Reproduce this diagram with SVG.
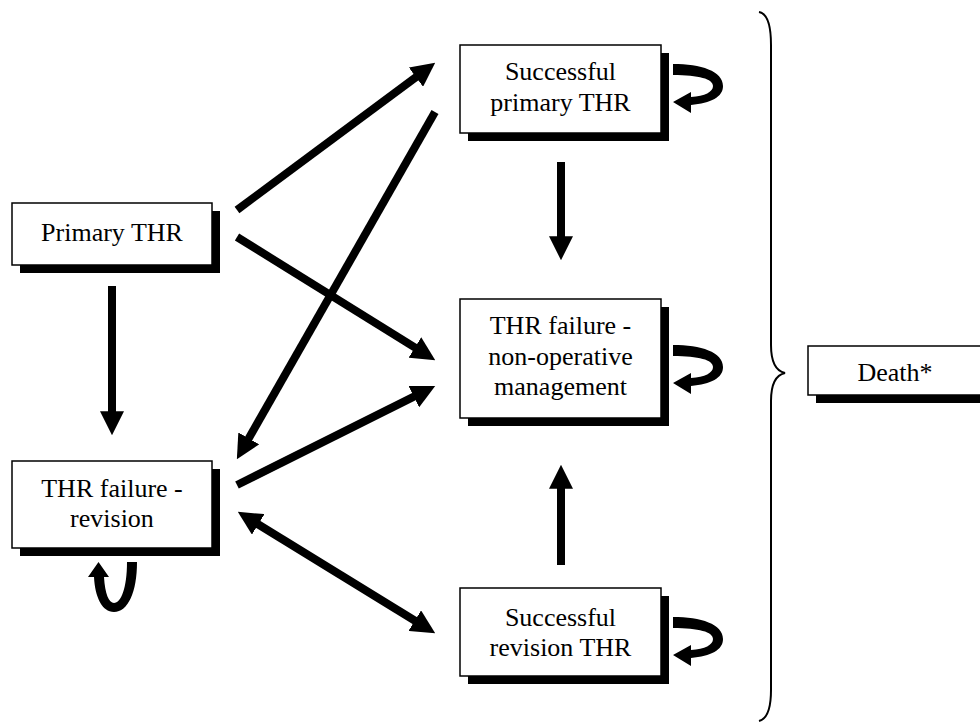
<svg xmlns="http://www.w3.org/2000/svg" width="980" height="725" viewBox="0 0 980 725">
<style>
  .shadow { fill: #000; }
  .box { fill: #fff; stroke: #000; stroke-width: 1.5; }
  .lbl { font-family: "Liberation Serif", "Times New Roman", serif; font-size: 26px; fill: #000; text-anchor: middle; }
  .arr { stroke: #000; stroke-width: 8; fill: none; }
  .loop { fill: #000; }
  .brace { fill: none; stroke: #000; stroke-width: 2; }
</style>
<defs>
  <marker id="head" viewBox="0 0 10 10" refX="0.3" refY="5" markerWidth="3" markerHeight="3" orient="auto-start-reverse" markerUnits="strokeWidth">
    <path d="M0,0 L10,5 L0,10 z" fill="#000"/>
  </marker>
</defs>
<rect width="980" height="725" fill="#fff"/>

<g id="connectors">
  <line class="arr" x1="112" y1="286" x2="112" y2="412" marker-end="url(#head)"/>
  <line class="arr" x1="561" y1="162" x2="561" y2="237" marker-end="url(#head)"/>
  <line class="arr" x1="561" y1="565" x2="561" y2="488" marker-end="url(#head)"/>
  <line class="arr" x1="237" y1="210" x2="416.5" y2="76.7" marker-end="url(#head)"/>
  <line class="arr" x1="237" y1="237" x2="415.5" y2="347.9" marker-end="url(#head)"/>
  <line class="arr" x1="435" y1="112" x2="248.4" y2="439" marker-end="url(#head)"/>
  <line class="arr" x1="237" y1="485" x2="414.4" y2="396.3" marker-end="url(#head)"/>
  <line class="arr" x1="257.6" y1="524" x2="415.4" y2="621" marker-start="url(#head)" marker-end="url(#head)"/>
  <path class="loop" transform="translate(673,64)" d="M0,0 C28,0 50,7 50,22 C50,33 38,39 18,41 L18,49 L0,38 L18,28 L18,33 C32,32 40,28 40,22 C40,15 26,11 0,11 Z"/>
  <path class="loop" transform="translate(673,345)" d="M0,0 C28,0 50,7 50,22 C50,33 38,39 18,41 L18,49 L0,38 L18,28 L18,33 C32,32 40,28 40,22 C40,15 26,11 0,11 Z"/>
  <path class="loop" transform="translate(673,617)" d="M0,0 C28,0 50,7 50,22 C50,33 38,39 18,41 L18,49 L0,38 L18,28 L18,33 C32,32 40,28 40,22 C40,15 26,11 0,11 Z"/>
  <path class="loop" transform="translate(88,562)" d="M39,0 L49,0 C49,30 40,50 26,50 C14,50 7,35 6,15 L0,15 L10.5,0 L21,15 L16,15 C17,32 21,41 26,41 C33,41 39,26 39,0 Z"/>
  <path class="brace" d="M759,12 Q771,14 771,45 L771,345 Q771,370 785,373 Q771,376 771,401 L771,690 Q771,718 759,721"/>
</g>

<g id="primary">
  <rect class="shadow" x="20" y="211" width="200" height="62"/>
  <rect class="box" x="12" y="203" width="200" height="62"/>
  <text class="lbl" x="112" y="241">Primary THR</text>
</g>

<g id="successful-primary">
  <rect class="shadow" x="468" y="53" width="201" height="88"/>
  <rect class="box" x="460" y="45" width="201" height="88"/>
  <text class="lbl" x="560.5" y="80">Successful</text>
  <text class="lbl" x="560.5" y="111">primary THR</text>
</g>

<g id="non-operative">
  <rect class="shadow" x="468" y="307" width="201" height="119"/>
  <rect class="box" x="460" y="299" width="201" height="119"/>
  <text class="lbl" x="560.5" y="334">THR failure -</text>
  <text class="lbl" x="560.5" y="365">non-operative</text>
  <text class="lbl" x="560.5" y="395">management</text>
</g>

<g id="revision">
  <rect class="shadow" x="20" y="469" width="200" height="87"/>
  <rect class="box" x="12" y="461" width="200" height="87"/>
  <text class="lbl" x="112" y="497">THR failure -</text>
  <text class="lbl" x="112" y="527">revision</text>
</g>

<g id="successful-revision">
  <rect class="shadow" x="468" y="596" width="201" height="88"/>
  <rect class="box" x="460" y="588" width="201" height="88"/>
  <text class="lbl" x="560.5" y="626">Successful</text>
  <text class="lbl" x="560.5" y="656">revision THR</text>
</g>

<g id="death">
  <rect class="shadow" x="816" y="354" width="174" height="49"/>
  <rect class="box" x="808" y="346" width="174" height="49"/>
  <text class="lbl" x="895" y="381">Death*</text>
</g>
</svg>
